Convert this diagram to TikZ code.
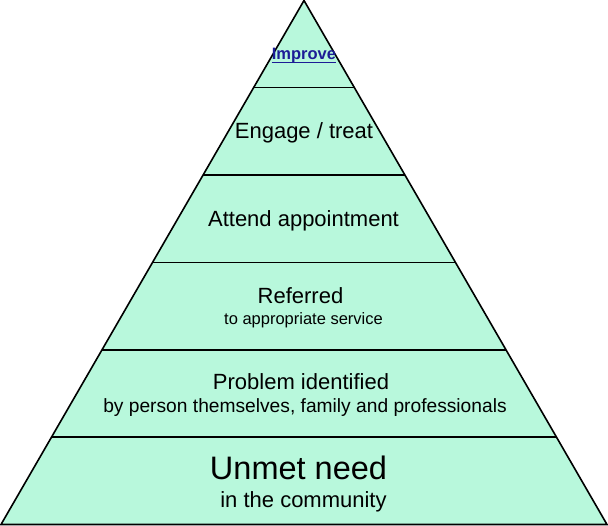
\documentclass[tikz,border=0pt]{standalone}
\usepackage{fontspec}
\setmainfont{Liberation Sans}
\definecolor{pyrfill}{RGB}{184,248,220}
\definecolor{linkblue}{RGB}{28,28,150}
\begin{document}
\begin{tikzpicture}[x=1pt,y=-1pt,
  lbl/.style={inner sep=0pt,anchor=base,text=black},
  big/.style={lbl,font=\fontsize{22}{26}\selectfont},
  huge/.style={lbl,font=\fontsize{32.5}{38}\selectfont},
  small/.style={lbl,font=\fontsize{16.5}{20}\selectfont},
  mid/.style={lbl,font=\fontsize{19.2}{23}\selectfont},
  linkstyle/.style={lbl,text=linkblue,font=\fontsize{16.5}{20}\selectfont\bfseries},
  tier/.style={line width=1.6pt,draw=black}]
\useasboundingbox (0,0) rectangle (608,526);
\coordinate (apex) at (304,0.5);
\coordinate (bl) at (1,524.5);
\coordinate (br) at (607,524.5);
\fill[pyrfill] (apex) -- (bl) -- (br) -- cycle;
\begin{scope}
\clip (apex) -- (bl) -- (br) -- cycle;
\foreach \yy/\nm in {87.5/l1,175/l2,262.5/l3,350/l4,437/l5}{
  \coordinate (\nm a) at (0,\yy);
  \coordinate (\nm b) at (608,\yy);
  \draw[tier] (\nm a) -- (\nm b);
}
\end{scope}
\draw[tier,line join=miter] (apex) -- (bl) -- (br) -- cycle;
\node[linkstyle] (improve) at (304,59.5) {Improve};
\coordinate (ulA) at ([yshift=-2.8pt]improve.base west);
\coordinate (ulB) at ([yshift=-2.8pt]improve.base east);
\draw[linkblue,line width=1.1pt] (ulA) -- (ulB);
\node[big] (engage) at (304,139) {Engage / treat};
\node[big] (attend) at (303.5,226.5) {Attend appointment};
\node[big] (referred) at (300.5,304) {Referred};
\node[small] (service) at (303.5,325) {to appropriate service};
\node[big] (problem) at (301,390) {Problem identified};
\node[mid] (person) at (305,413) {by person themselves, family and professionals};
\node[huge] (unmet) at (298.5,479) {Unmet need};
\node[big] (community) at (303.5,507.5) {in the community};
\end{tikzpicture}
\end{document}
